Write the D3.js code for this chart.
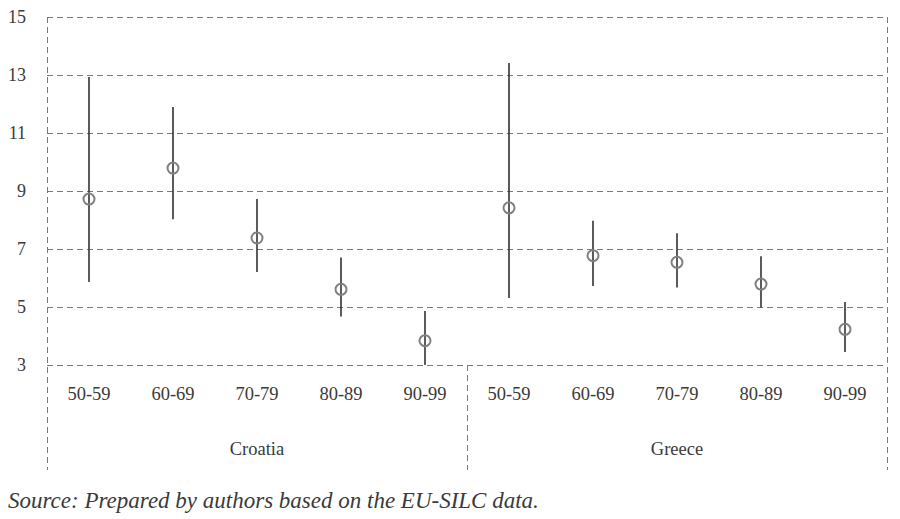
<!DOCTYPE html>
<html>
<head>
<meta charset="utf-8">
<script src="https://cdn.jsdelivr.net/npm/d3@7/dist/d3.min.js"></script>
<style>
  html, body { margin: 0; padding: 0; background: #fff; }
  svg { display: block; }
</style>
</head>
<body>
<svg id="chart" width="900" height="519"></svg>
<script>
const countries = ["Croatia", "Greece"];
const ageGroups = ["50-59", "60-69", "70-79", "80-89", "90-99"];
const pointCroatia = [8.72, 9.79, 7.38, 5.61, 3.84];
const upperCroatia = [12.93, 11.9, 8.72, 6.71, 4.86];
const lowerCroatia = [5.86, 8.03, 6.21, 4.67, 3.0];
const pointGreece = [8.42, 6.77, 6.54, 5.79, 4.23];
const upperGreece = [13.41, 7.97, 7.54, 6.75, 5.17];
const lowerGreece = [5.31, 5.72, 5.67, 4.98, 3.45];
const yTicks = [3, 5, 7, 9, 11, 13, 15];
const sourceNote = "Source: Prepared by authors based on the EU-SILC data.";

(function () {
const rows = [];
countries.forEach((c, ci) => {
  const p = ci === 0 ? pointCroatia : pointGreece;
  const u = ci === 0 ? upperCroatia : upperGreece;
  const l = ci === 0 ? lowerCroatia : lowerGreece;
  ageGroups.forEach((g, gi) => rows.push({ key: c + "|" + g, country: c, group: g, v: p[gi], hi: u[gi], lo: l[gi] }));
});

const svg = d3.select("#chart");
const mLeft = 47, mRight = 887, mTop = 17, mBottom = 365, catBottom = 470;
const serif = "'Liberation Serif', 'Times New Roman', serif";
const textColor = "#3a3a3a";

const x = d3.scaleBand().domain(rows.map(d => d.key)).range([mLeft, mRight]).padding(0);
const y = d3.scaleLinear().domain([3, 15]).range([mBottom, mTop]);
const xc = d3.scaleBand().domain(countries).range([mLeft, mRight]);

const gridColor = "#7a7a7a";
const dash = "6,4";

svg.append("g").selectAll("line").data(yTicks).join("line")
  .attr("x1", mLeft).attr("x2", mRight)
  .attr("y1", d => y(d) + 0.5).attr("y2", d => y(d) + 0.5)
  .attr("stroke", gridColor).attr("stroke-width", 1).attr("stroke-dasharray", dash);

const vlines = [
  { x: mLeft, y1: mTop, y2: catBottom },
  { x: mRight, y1: mTop, y2: catBottom },
  { x: xc("Greece"), y1: mBottom, y2: catBottom }
];
svg.append("g").selectAll("line").data(vlines).join("line")
  .attr("x1", d => d.x + 0.5).attr("x2", d => d.x + 0.5)
  .attr("y1", d => d.y1).attr("y2", d => d.y2)
  .attr("stroke", gridColor).attr("stroke-width", 1).attr("stroke-dasharray", dash);

const yAxis = d3.axisLeft(y).tickValues(yTicks).tickSize(0).tickPadding(0);
const ya = svg.append("g").attr("transform", `translate(26,0)`).call(yAxis);
ya.select(".domain").remove();
ya.selectAll("text")
  .style("font-family", serif)
  .style("font-size", "18px").attr("fill", textColor);

const xAxis = d3.axisBottom(x).tickSize(0).tickPadding(0).tickFormat(k => k.split("|")[1]);
const xa = svg.append("g").attr("transform", `translate(0,${mBottom + 22})`).call(xAxis);
xa.select(".domain").remove();
xa.selectAll("text")
  .style("font-family", serif)
  .style("font-size", "18.5px").attr("fill", textColor);

svg.append("g").selectAll("text").data(countries).join("text")
  .attr("x", d => xc(d) + xc.bandwidth() / 2)
  .attr("y", 455)
  .attr("text-anchor", "middle")
  .style("font-family", serif)
  .style("font-size", "18.5px").attr("fill", textColor)
  .text(d => d);

svg.append("g").selectAll("line").data(rows).join("line")
  .attr("x1", d => x(d.key) + x.bandwidth() / 2)
  .attr("x2", d => x(d.key) + x.bandwidth() / 2)
  .attr("y1", d => y(d.hi)).attr("y2", d => y(d.lo))
  .attr("stroke", "#333").attr("stroke-width", 1.6);

svg.append("g").selectAll("circle").data(rows).join("circle")
  .attr("cx", d => x(d.key) + x.bandwidth() / 2)
  .attr("cy", d => y(d.v))
  .attr("r", 5.5)
  .attr("fill", "none")
  .attr("stroke", "#808080").attr("stroke-width", 2);

svg.append("text")
  .attr("x", 8).attr("y", 508)
  .style("font-family", serif)
  .style("font-style", "italic")
  .style("font-size", "23px").attr("fill", textColor)
  .text(sourceNote);
})();
</script>
</body>
</html>
